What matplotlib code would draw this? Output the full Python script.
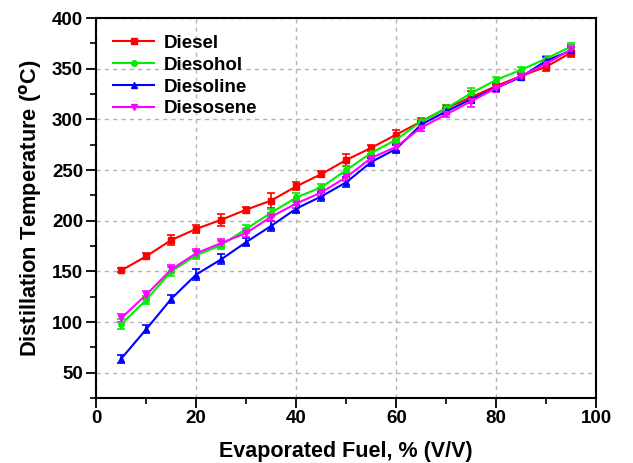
import numpy as np
import matplotlib
matplotlib.use("Agg")
import matplotlib.pyplot as plt
from matplotlib.ticker import MultipleLocator
from matplotlib.lines import Line2D

plt.rcParams["font.family"] = ["Liberation Sans", "DejaVu Sans"]
plt.rcParams["font.weight"] = "bold"

# evaporated fuel, % (V/V)
x = [5, 10, 15, 20, 25, 30, 35, 40, 45, 50, 55, 60, 65, 70, 75, 80, 85, 90, 95]

diesel = [151, 165, 181, 192, 201, 211, 220, 234, 246, 260, 272, 285, 298, 311, 322, 333, 343, 352, 366]
diesohol = [98, 122, 150, 166, 176, 192, 208, 223, 233, 250, 267, 280, 298, 311, 326, 339, 349, 360, 372]
diesoline = [64, 93, 123, 147, 162, 179, 195, 212, 224, 238, 258, 271, 295, 308, 320, 331, 342, 358, 368]
diesosene = [104, 127, 152, 168, 178, 188, 204, 217, 228, 243, 262, 273, 292, 305, 318, 331, 343, 355, 369]

diesel_err = [2, 3, 5, 4, 6, 3, 7, 4, 3, 6, 3, 5, 3, 3, 6, 3, 3, 4, 4]
diesohol_err = [5, 4, 4, 4, 4, 4, 4, 4, 3, 4, 3, 4, 3, 3, 5, 3, 3, 3, 3]
diesoline_err = [4, 4, 4, 5, 5, 4, 5, 4, 4, 5, 4, 4, 3, 3, 4, 3, 3, 4, 4]
diesosene_err = [4, 4, 4, 4, 4, 4, 4, 4, 4, 4, 4, 4, 3, 3, 6, 4, 3, 4, 4]

series = [
    ("Diesel", diesel, diesel_err, "#ff0000", "s"),
    ("Diesohol", diesohol, diesohol_err, "#00ee00", "o"),
    ("Diesoline", diesoline, diesoline_err, "#0000ff", "^"),
    ("Diesosene", diesosene, diesosene_err, "#ff00ff", "v"),
]

fig = plt.figure(figsize=(6.33, 4.63), dpi=100)
ax = fig.add_axes([0.152, 0.14, 0.79, 0.821])

handles = []
for name, y, err, color, marker in series:
    ax.errorbar(x, y, yerr=err, color=color, marker=marker, markersize=4,
                linewidth=1.5, elinewidth=1.2, capsize=3, capthick=1.2)
    handles.append(Line2D([], [], color=color, marker=marker, markersize=4,
                          linewidth=1.5, label=name))

ax.set_xlim(0, 100)
ax.set_ylim(25, 400)
ax.xaxis.set_major_locator(MultipleLocator(20))
ax.xaxis.set_minor_locator(MultipleLocator(10))
ax.yaxis.set_major_locator(MultipleLocator(50))
ax.yaxis.set_minor_locator(MultipleLocator(25))
ax.set_yticks([50, 100, 150, 200, 250, 300, 350, 400])

ax.grid(True, which="major", linestyle=(0, (3, 3)), color="#b4b4b4", linewidth=1)
ax.tick_params(which="major", direction="out", length=7, width=1.3, labelsize=13.5)
ax.tick_params(which="minor", direction="out", length=4, width=1.2)
ax.tick_params(axis="x", which="major", pad=1.5)
ax.tick_params(axis="y", which="major", pad=2.5)
for lab in ax.get_xticklabels() + ax.get_yticklabels():
    lab.set_fontweight("bold")
for sp in ax.spines.values():
    sp.set_linewidth(1.5)

ax.set_xlabel("Evaporated Fuel, % (V/V)", fontsize=15.5, fontweight="bold", labelpad=10)
ax.set_ylabel("Distillation Temperature ($\\mathbf{^o}$C)", fontsize=15.7, fontweight="bold", labelpad=6)

leg = ax.legend(handles=handles, loc="upper left", frameon=False, fontsize=13.5,
                handlelength=2.2, handletextpad=0.5, borderaxespad=0.5,
                labelspacing=0.25, borderpad=0.4)
for t in leg.get_texts():
    t.set_fontweight("bold")

fig.savefig("out.png", dpi=100)
